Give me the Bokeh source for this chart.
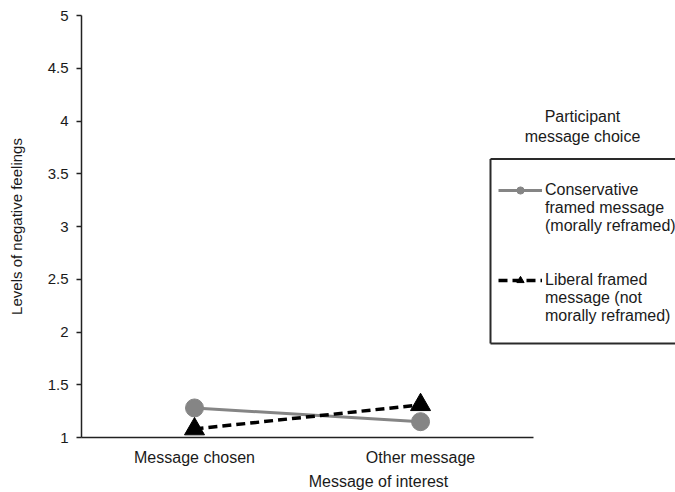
from bokeh.plotting import figure
from bokeh.models import Range1d, Legend, LegendItem, Label, FixedTicker, Arrow
from bokeh.embed import file_html
from bokeh.resources import INLINE

categories = ["Message chosen", "Other message"]
conservative = [1.28, 1.15]
liberal = [1.08, 1.31]
y_ticks = [1, 1.5, 2, 2.5, 3, 3.5, 4, 4.5, 5]
y_tick_labels = ["1", "1.5", "2", "2.5", "3", "3.5", "4", "4.5", "5"]
conservative_label = ["Conservative", "framed message", "(morally reframed)"]
liberal_label = ["Liberal framed", "message (not", "morally reframed)"]
legend_title = "Participant\nmessage choice"

xpos = [i + 0.5 for i in range(len(categories))]
FONT = "Liberation Sans"
TXT = "#1a1a1a"

p = figure(width=675, height=492, output_backend="svg", toolbar_location=None,
           x_range=Range1d(0, 2.628), y_range=Range1d(1, 5),
           min_border_left=81, min_border_top=15, min_border_bottom=55, min_border_right=0)
p.outline_line_color = None
p.xgrid.visible = False
p.ygrid.visible = False

# y axis
p.yaxis.ticker = FixedTicker(ticks=y_ticks)
p.yaxis.major_label_overrides = {t: l for t, l in zip(y_ticks, y_tick_labels)}
p.yaxis.minor_tick_line_color = None
p.yaxis.major_tick_out = 5
p.yaxis.major_tick_in = 0
p.yaxis.major_label_standoff = 8
p.yaxis.axis_label = "Levels of negative feelings"
p.yaxis.axis_label_standoff = 20
p.yaxis.major_label_text_font = FONT
p.yaxis.major_label_text_font_size = "15px"
p.yaxis.major_label_text_color = TXT
p.yaxis.axis_label_text_font = FONT
p.yaxis.axis_label_text_font_size = "15px"
p.yaxis.axis_label_text_font_style = "normal"
p.yaxis.axis_label_text_color = TXT
p.yaxis.axis_line_color = "#222222"
p.yaxis.axis_line_width = 1.5
p.yaxis.major_tick_line_color = "#222222"
p.yaxis.major_tick_line_width = 1.5

# x axis
p.xaxis.bounds = (0, len(categories))
p.xaxis.ticker = FixedTicker(ticks=xpos)
p.xaxis.major_label_overrides = {x: c for x, c in zip(xpos, categories)}
p.xaxis.minor_tick_line_color = None
p.xaxis.major_tick_line_color = None
p.xaxis.major_tick_out = 0
p.xaxis.major_tick_in = 0
p.xaxis.major_label_standoff = 11
p.xaxis.axis_label = "Message of interest"
p.xaxis.axis_label_standoff = 4
p.xaxis.major_label_text_font = FONT
p.xaxis.major_label_text_font_size = "16px"
p.xaxis.major_label_text_color = TXT
p.xaxis.axis_label_text_font = FONT
p.xaxis.axis_label_text_font_size = "16px"
p.xaxis.axis_label_text_font_style = "normal"
p.xaxis.axis_label_text_color = TXT
p.xaxis.axis_line_color = "#222222"
p.xaxis.axis_line_width = 1.5

# series
l1 = p.line(xpos, conservative, line_color="#858585", line_width=3)
m1 = p.scatter(xpos, conservative, marker="circle", size=18, fill_color="#858585", line_color="#858585")
l2 = p.line(xpos, liberal, line_color="black", line_width=3.5, line_dash="9 5")
m2 = p.scatter(xpos, liberal, marker="triangle", size=20, fill_color="black", line_color="black")
blank = p.line(x=[], y=[], line_alpha=0)

# legend box: top, left and bottom edges (the right edge runs off the canvas)
box_left, box_right, box_bottom, box_top = 409, 720, 94, 278.5
for xs, ys, xe, ye in [(box_left, box_top, box_right, box_top),
                       (box_left, box_bottom, box_left, box_top),
                       (box_left, box_bottom, box_right, box_bottom)]:
    p.add_layout(Arrow(end=None, start=None, x_start=xs, y_start=ys, x_end=xe, y_end=ye,
                       start_units="screen", end_units="screen",
                       line_color="#2a2a2a", line_width=2))

items = [LegendItem(label=conservative_label[0], renderers=[l1, m1])]
items += [LegendItem(label=t, renderers=[blank]) for t in conservative_label[1:]]
items += [LegendItem(label=" ", renderers=[blank]), LegendItem(label="  ", renderers=[blank])]
items += [LegendItem(label=liberal_label[0], renderers=[l2, m2])]
items += [LegendItem(label=t, renderers=[blank]) for t in liberal_label[1:]]

legend = Legend(items=items, location=(417, 112), orientation="vertical",
                label_text_font=FONT, label_text_font_size="16px", label_text_color=TXT,
                border_line_color=None, background_fill_color=None,
                glyph_width=44, glyph_height=18, label_height=18, label_standoff=3,
                spacing=0, padding=0, margin=0)
p.add_layout(legend, "center")

title = Label(x=501, y=311, x_units="screen", y_units="screen", text=legend_title,
              text_font=FONT, text_font_size="16px", text_color=TXT, text_line_height=1.15,
              text_align="center", text_baseline="middle")
p.add_layout(title)

open("out.html", "w").write(file_html(p, INLINE))
